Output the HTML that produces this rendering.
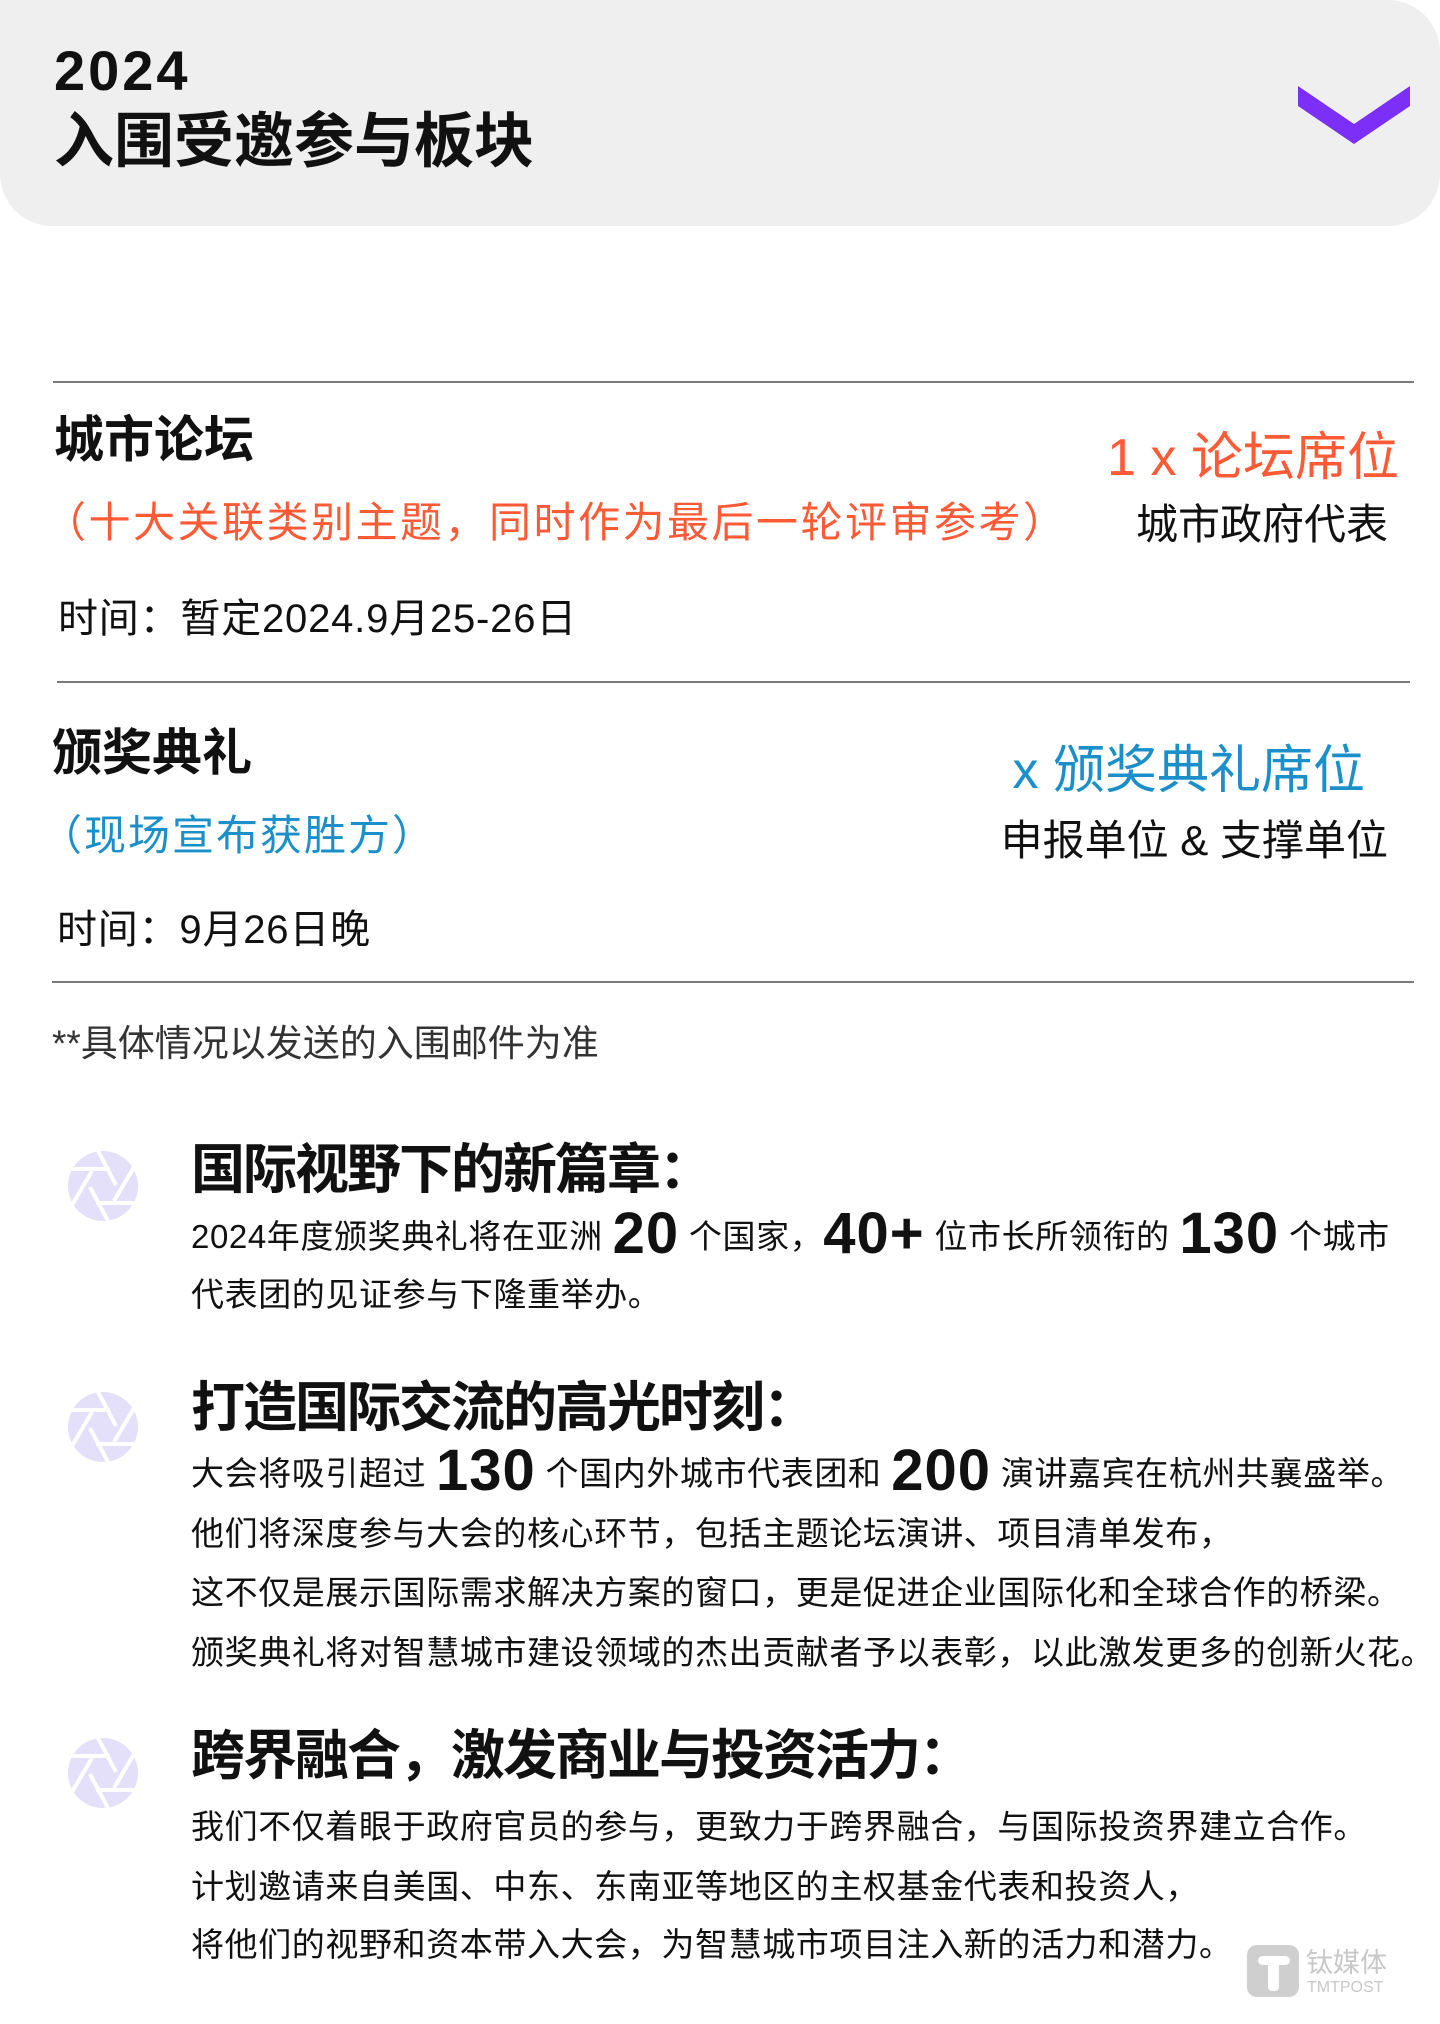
<!DOCTYPE html>
<html><head><meta charset="utf-8"><style>
*{margin:0;padding:0;box-sizing:border-box}
html,body{width:1440px;height:2024px;background:#fff;overflow:hidden}
body{position:relative;font-family:"Liberation Sans","Noto Sans CJK SC",sans-serif;color:#111}
.t{position:absolute;white-space:nowrap}
.hdr{position:absolute;left:0;top:0;width:1440px;height:226px;background:#efefef;border-radius:0 0 52px 52px;border-top-right-radius:52px}
.hr{position:absolute;height:2px;background:#7a7a7a}
.b{font-weight:bold}
.body{font-size:33px;line-height:33px;letter-spacing:0.6px}
.num{font-size:58px;font-weight:bold;vertical-align:-5px;letter-spacing:1px}
.ic{position:absolute;left:68px;width:70px;height:70px}
.ttl{font-size:54px;line-height:54px;letter-spacing:-2px;font-weight:bold}
</style></head><body>
<div class="hdr"></div>
<div class="t b" style="left:54px;top:43px;font-size:56px;line-height:56px;letter-spacing:3px">2024</div>
<div class="t b" style="left:54px;top:112px;font-size:60px;line-height:60px">入围受邀参与板块</div>
<svg style="position:absolute;left:1298px;top:86px" width="112" height="60" viewBox="0 0 112 60"><polygon points="0,0 56,38 112,0 112,20 56,58 0,20" fill="#7b2ff7"/></svg>

<div class="hr" style="left:53px;top:381px;width:1361px"></div>
<div class="t b" style="left:54px;top:415px;font-size:50px;line-height:50px">城市论坛</div>
<div class="t" style="right:41px;top:432px;font-size:52px;line-height:52px;color:#ff5a36">1 x 论坛席位</div>
<div class="t" style="left:44px;top:502px;font-size:42px;line-height:42px;color:#ff5a36;letter-spacing:2.5px">（十大关联类别主题，同时作为最后一轮评审参考）</div>
<div class="t" style="right:52px;top:504px;font-size:42px;line-height:42px">城市政府代表</div>
<div class="t" style="left:58px;top:599px;font-size:40px;line-height:40px;letter-spacing:0.8px">时间：暂定2024.9月25-26日</div>

<div class="hr" style="left:57px;top:681px;width:1353px"></div>
<div class="t b" style="left:52px;top:728px;font-size:50px;line-height:50px">颁奖典礼</div>
<div class="t" style="right:75px;top:745px;font-size:52px;line-height:52px;color:#1a8fc9">x 颁奖典礼席位</div>
<div class="t" style="left:40px;top:815px;font-size:42px;line-height:42px;color:#1a8fc9;letter-spacing:2px">（现场宣布获胜方）</div>
<div class="t" style="right:52px;top:820px;font-size:42px;line-height:42px">申报单位 &amp; 支撑单位</div>
<div class="t" style="left:57px;top:910px;font-size:40px;line-height:40px;letter-spacing:0.8px">时间：9月26日晚</div>

<div class="hr" style="left:52px;top:981px;width:1362px"></div>
<div class="t" style="left:52px;top:1025px;font-size:37px;line-height:37px;color:#333">**具体情况以发送的入围邮件为准</div>

<svg width="0" height="0" style="position:absolute"><defs><g id="ap"><circle cx="35" cy="35" r="35" fill="#e4e0fa"/><g stroke="#fff" stroke-width="4"><line x1="30" y1="0" x2="48" y2="34"/><line x1="66" y1="16" x2="46" y2="50"/><line x1="67" y1="52" x2="28" y2="52"/><line x1="40" y1="70" x2="22" y2="36"/><line x1="4" y1="54" x2="24" y2="20"/><line x1="3" y1="18" x2="42" y2="18"/></g></g></defs></svg>
<svg class="ic" style="top:1151px" viewBox="0 0 70 70"><use href="#ap"/></svg>
<svg class="ic" style="top:1392px" viewBox="0 0 70 70"><use href="#ap"/></svg>
<svg class="ic" style="top:1738px" viewBox="0 0 70 70"><use href="#ap"/></svg>

<div class="t ttl" style="left:191px;top:1143px">国际视野下的新篇章：</div>
<div class="t body" style="left:191px;top:1217px">2024年度颁奖典礼将在亚洲 <span class="num">20</span> 个国家，<span class="num">40+</span> 位市长所领衔的 <span class="num">130</span> 个城市</div>
<div class="t body" style="left:191px;top:1278px">代表团的见证参与下隆重举办。</div>

<div class="t ttl" style="left:191px;top:1381px">打造国际交流的高光时刻：</div>
<div class="t body" style="left:191px;top:1454px">大会将吸引超过 <span class="num">130</span> 个国内外城市代表团和 <span class="num">200</span> 演讲嘉宾在杭州共襄盛举。</div>
<div class="t body" style="left:191px;top:1517px">他们将深度参与大会的核心环节，包括主题论坛演讲、项目清单发布，</div>
<div class="t body" style="left:191px;top:1576px">这不仅是展示国际需求解决方案的窗口，更是促进企业国际化和全球合作的桥梁。</div>
<div class="t body" style="left:191px;top:1636px">颁奖典礼将对智慧城市建设领域的杰出贡献者予以表彰，以此激发更多的创新火花。</div>

<div class="t ttl" style="left:191px;top:1729px">跨界融合，激发商业与投资活力：</div>
<div class="t body" style="left:191px;top:1810px">我们不仅着眼于政府官员的参与，更致力于跨界融合，与国际投资界建立合作。</div>
<div class="t body" style="left:191px;top:1870px">计划邀请来自美国、中东、东南亚等地区的主权基金代表和投资人，</div>
<div class="t body" style="left:191px;top:1928px">将他们的视野和资本带入大会，为智慧城市项目注入新的活力和潜力。</div>

<div style="position:absolute;left:1247px;top:1945px;width:52px;height:52px;border-radius:10px;background:#cfcfcf"></div>
<div style="position:absolute;left:1258px;top:1956px;width:32px;height:9px;border-radius:5px;background:#fff"></div>
<div style="position:absolute;left:1268px;top:1960px;width:11px;height:31px;border-radius:4px;background:#fff"></div>
<div class="t" style="left:1306px;top:1950px;font-size:27px;line-height:27px;color:#c8c8c8">钛媒体</div>
<div class="t" style="left:1307px;top:1980px;font-size:16px;line-height:16px;color:#c8c8c8">TMTPOST</div>
</body></html>
